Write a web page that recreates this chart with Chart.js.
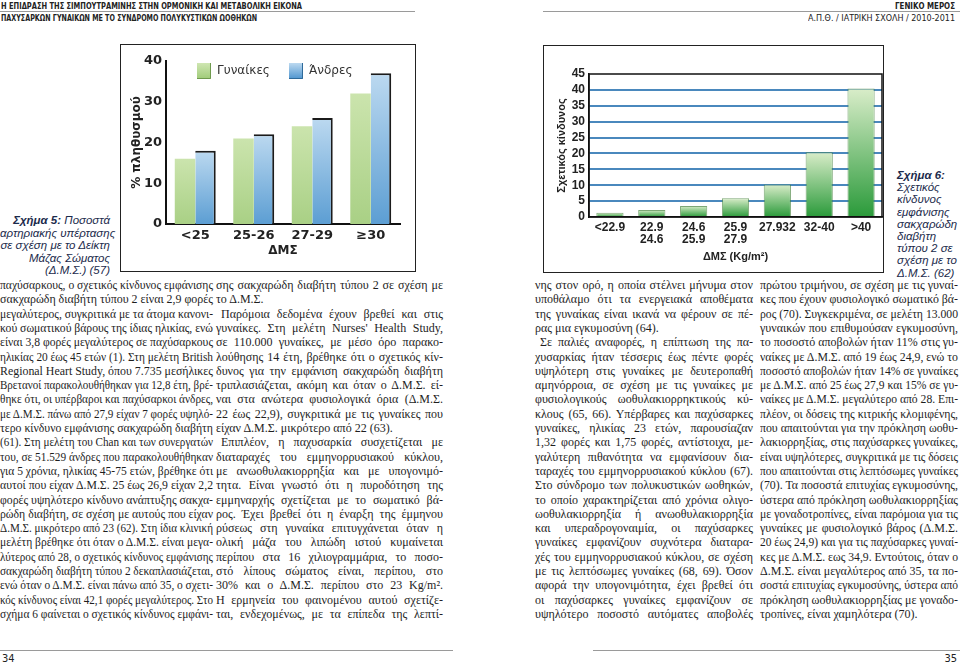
<!DOCTYPE html>
<html lang="el">
<head>
<meta charset="utf-8">
<title>Σχήμα 5 - Σχήμα 6</title>
<script src="https://cdn.jsdelivr.net/npm/chart.js@4.4.0/dist/chart.umd.min.js"></script>
<style>
html, body { margin: 0; padding: 0; background: #fff; }
body { width: 960px; height: 664px; position: relative; overflow: hidden; }
.hdr { position: absolute; font-family: "Liberation Sans Narrow", "DejaVu Sans Condensed", sans-serif; font-size: 9.5px; line-height: 10px; color: #222; white-space: nowrap; transform-origin: 0 0; }
.hdr b { font-weight: bold; }
.rule { position: absolute; height: 1px; background: #9a9a9a; }
.box { position: absolute; border: 1px solid #222; box-sizing: border-box; }
.box canvas { position: absolute; left: 0; top: 0; }
.cap { position: absolute; font-family: "Liberation Sans", Arial, sans-serif; font-style: italic; font-size: 11.5px; color: #1c2b4c; white-space: nowrap; }
.ln { position: absolute; font-family: "Liberation Serif", "DejaVu Serif", serif; font-size: 12px; line-height: 14px; color: #1e1e1e; white-space: nowrap; transform-origin: 0 0; }
.pg { position: absolute; font-family: "Liberation Sans Narrow", "DejaVu Sans Condensed", sans-serif; font-size: 11px; color: #222; }
</style>
</head>
<body>

<div class="hdr" id="h1" style="left:1px; top:1px;"><b>Η ΕΠΙΔΡΑΣΗ ΤΗΣ ΣΙΜΠΟΥΤΡΑΜΙΝΗΣ ΣΤΗΝ ΟΡΜΟΝΙΚΗ ΚΑΙ ΜΕΤΑΒΟΛΙΚΗ ΕΙΚΟΝΑ</b></div>
<div class="hdr" id="h2" style="left:1px; top:13px;"><b>ΠΑΧΥΣΑΡΚΩΝ ΓΥΝΑΙΚΩΝ ΜΕ ΤΟ ΣΥΝΔΡΟΜΟ ΠΟΛΥΚΥΣΤΙΚΩΝ ΩΟΘΗΚΩΝ</b></div>
<div class="hdr" id="h3" style="left:895px; top:1px;"><b>ΓΕΝΙΚΟ ΜΕΡΟΣ</b></div>
<div class="hdr" id="h4" style="left:808px; top:13px;">Α.Π.Θ. / ΙΑΤΡΙΚΗ ΣΧΟΛΗ / 2010-2011</div>
<div class="rule" style="left:0; top:11px; width:415px;"></div>
<div class="rule" style="left:543px; top:11px; width:417px;"></div>

<div class="box" style="left:120px; top:44px; width:296px; height:228px;">
  <canvas id="chart5" width="294" height="226"></canvas>
</div>
<div class="box" style="left:543px; top:45px; width:341px; height:228px;">
  <canvas id="chart6" width="339" height="226"></canvas>
</div>

<div class="cap" style="left:0; width:110px; top:214px; line-height:12.5px; text-align:right;">
  <b>Σχήμα 5:</b> Ποσοστά<br>αρτηριακής υπέρτασης<br>σε σχέση με το Δείκτη<br>Μάζας Σώματος<br>(Δ.Μ.Σ.) (57)
</div>
<div class="cap" style="left:897px; top:169px; line-height:12.2px;">
  <b>Σχήμα 6:</b><br>Σχετικός<br>κίνδυνος<br>εμφάνισης<br>σακχαρώδη<br>διαβήτη<br>τύπου 2 σε<br>σχέση με το<br>Δ.Μ.Σ. (62)
</div>

<div id="text"></div>

<div class="rule" style="left:0; top:650px; width:453px;"></div>
<div class="rule" style="left:593px; top:650px; width:367px;"></div>
<div class="pg" style="left:2px; top:652px;">34</div>
<div class="pg" style="right:3px; top:652px;">35</div>

<script>
"use strict";

// Σχήμα 5: % πληθυσμού με αρτηριακή υπέρταση ανά ΔΜΣ
const bmiGroups = ["<25", "25-26", "27-29", "≥30"];
const womenPct = [16, 21, 24, 32];
const menPct = [18, 22, 26, 37];
const pctTicks = [0, 10, 20, 30, 40];

// Σχήμα 6: σχετικός κίνδυνος σακχαρώδη διαβήτη τύπου 2 ανά ΔΜΣ
const riskGroups = [["<22.9"], ["22.9", "24.6"], ["24.6", "25.9"], ["25.9", "27.9"], ["27.932"], ["32-40"], [">40"]];
const relRisk = [1.3, 2.2, 3.5, 5.9, 10.2, 20.4, 40.4];
const riskTicks = [0, 5, 10, 15, 20, 25, 30, 35, 40, 45];

// text of the four columns, one entry per printed line
// ">" at start = paragraph indent, "|" at end = last line of paragraph
const col1 = [
    "παχύσαρκους, ο σχετικός κίνδυνος εμφάνισης",
    "σακχαρώδη διαβήτη τύπου 2 είναι 2,9 φορές",
    "μεγαλύτερος, συγκριτικά με τα άτομα κανονι-",
    "κού σωματικού βάρους της ίδιας ηλικίας, ενώ",
    "είναι 3,8 φορές μεγαλύτερος σε παχύσαρκους",
    "ηλικίας 20 έως 45 ετών (1). Στη μελέτη British",
    "Regional Heart Study, όπου 7.735 μεσήλικες",
    "Βρετανοί παρακολουθήθηκαν για 12,8 έτη, βρέ-",
    "θηκε ότι, οι υπέρβαροι και παχύσαρκοι άνδρες,",
    "με Δ.Μ.Σ. πάνω από 27,9 είχαν 7 φορές υψηλό-",
    "τερο κίνδυνο εμφάνισης σακχαρώδη διαβήτη",
    "(61). Στη μελέτη του Chan και των συνεργατών",
    "του, σε 51.529 άνδρες που παρακολουθήθηκαν",
    "για 5 χρόνια, ηλικίας 45-75 ετών, βρέθηκε ότι",
    "αυτοί που είχαν Δ.Μ.Σ. 25 έως 26,9 είχαν 2,2",
    "φορές υψηλότερο κίνδυνο ανάπτυξης σακχα-",
    "ρώδη διαβήτη, σε σχέση με αυτούς που είχαν",
    "Δ.Μ.Σ. μικρότερο από 23 (62). Στη ίδια κλινική",
    "μελέτη βρέθηκε ότι όταν ο Δ.Μ.Σ. είναι μεγα-",
    "λύτερος από 28, ο σχετικός κίνδυνος εμφάνισης",
    "σακχαρώδη διαβήτη τύπου 2 δεκαπλασιάζεται,",
    "ενώ όταν ο Δ.Μ.Σ. είναι πάνω από 35, ο σχετι-",
    "κός κίνδυνος είναι 42,1 φορές μεγαλύτερος. Στο",
    "σχήμα 6 φαίνεται ο σχετικός κίνδυνος εμφάνι-"
];
const col2 = [
    "σης σακχαρώδη διαβήτη τύπου 2 σε σχέση με",
    "το Δ.Μ.Σ.|",
    ">Παρόμοια δεδομένα έχουν βρεθεί και στις",
    "γυναίκες. Στη μελέτη Nurses' Health Study,",
    "σε 110.000 γυναίκες, με μέσο όρο παρακο-",
    "λούθησης 14 έτη, βρέθηκε ότι ο σχετικός κίν-",
    "δυνος για την εμφάνιση σακχαρώδη διαβήτη",
    "τριπλασιάζεται, ακόμη και όταν ο Δ.Μ.Σ. εί-",
    "ναι στα ανώτερα φυσιολογικά όρια (Δ.Μ.Σ.",
    "22 έως 22,9), συγκριτικά με τις γυναίκες που",
    "είχαν Δ.Μ.Σ. μικρότερο από 22 (63).|",
    ">Επιπλέον, η παχυσαρκία συσχετίζεται με",
    "διαταραχές του εμμηνορρυσιακού κύκλου,",
    "με ανωοθυλακιορρηξία και με υπογονιμό-",
    "τητα. Είναι γνωστό ότι η πυροδότηση της",
    "εμμηναρχής σχετίζεται με το σωματικό βά-",
    "ρος. Έχει βρεθεί ότι η έναρξη της έμμηνου",
    "ρύσεως στη γυναίκα επιτυγχάνεται όταν η",
    "ολική μάζα του λιπώδη ιστού κυμαίνεται",
    "περίπου στα 16 χιλιογραμμάρια, το ποσο-",
    "στό λίπους σώματος είναι, περίπου, στο",
    "30% και ο Δ.Μ.Σ. περίπου στο 23 Kg/m².",
    "Η ερμηνεία του φαινομένου αυτού σχετίζε-",
    "ται, ενδεχομένως, με τα επίπεδα της λεπτί-"
];
const col3 = [
    "νης στον ορό, η οποία στέλνει μήνυμα στον",
    "υποθάλαμο ότι τα ενεργειακά αποθέματα",
    "της γυναίκας είναι ικανά να φέρουν σε πέ-",
    "ρας μια εγκυμοσύνη (64).|",
    ">Σε παλιές αναφορές, η επίπτωση της πα-",
    "χυσαρκίας ήταν τέσσερις έως πέντε φορές",
    "υψηλότερη στις γυναίκες με δευτεροπαθή",
    "αμηνόρροια, σε σχέση με τις γυναίκες με",
    "φυσιολογικούς ωοθυλακιορρηκτικούς κύ-",
    "κλους (65, 66). Υπέρβαρες και παχύσαρκες",
    "γυναίκες, ηλικίας 23 ετών, παρουσίαζαν",
    "1,32 φορές και 1,75 φορές, αντίστοιχα, με-",
    "γαλύτερη πιθανότητα να εμφανίσουν δια-",
    "ταραχές του εμμηνορρυσιακού κύκλου (67).",
    "Στο σύνδρομο των πολυκυστικών ωοθηκών,",
    "το οποίο χαρακτηρίζεται από χρόνια ολιγο-",
    "ωοθυλακιορρηξία ή ανωοθυλακιορρηξία",
    "και υπεραδρογοναιμία, οι παχύσαρκες",
    "γυναίκες εμφανίζουν συχνότερα διαταρα-",
    "χές του εμμηνορρυσιακού κύκλου, σε σχέση",
    "με τις λεπτόσωμες γυναίκες (68, 69). Όσον",
    "αφορά την υπογονιμότητα, έχει βρεθεί ότι",
    "οι παχύσαρκες γυναίκες εμφανίζουν σε",
    "υψηλότερο ποσοστό αυτόματες αποβολές"
];
const col4 = [
    "πρώτου τριμήνου, σε σχέση με τις γυναί-",
    "κες που έχουν φυσιολογικό σωματικό βά-",
    "ρος (70). Συγκεκριμένα, σε μελέτη 13.000",
    "γυναικών που επιθυμούσαν εγκυμοσύνη,",
    "το ποσοστό αποβολών ήταν 11% στις γυ-",
    "ναίκες με Δ.Μ.Σ. από 19 έως 24,9, ενώ το",
    "ποσοστό αποβολών ήταν 14% σε γυναίκες",
    "με Δ.Μ.Σ. από 25 έως 27,9 και 15% σε γυ-",
    "ναίκες με Δ.Μ.Σ. μεγαλύτερο από 28. Επι-",
    "πλέον, οι δόσεις της κιτρικής κλομιφένης,",
    "που απαιτούνται για την πρόκληση ωοθυ-",
    "λακιορρηξίας, στις παχύσαρκες γυναίκες,",
    "είναι υψηλότερες, συγκριτικά με τις δόσεις",
    "που απαιτούνται στις λεπτόσωμες γυναίκες",
    "(70). Τα ποσοστά επιτυχίας εγκυμοσύνης,",
    "ύστερα από πρόκληση ωοθυλακιορρηξίας",
    "με γοναδοτροπίνες, είναι παρόμοια για τις",
    "γυναίκες με φυσιολογικό βάρος (Δ.Μ.Σ.",
    "20 έως 24,9) και για τις παχύσαρκες γυναί-",
    "κες με Δ.Μ.Σ. εως 34,9. Εντούτοις, όταν ο",
    "Δ.Μ.Σ. είναι μεγαλύτερος από 35, τα πο-",
    "σοστά επιτυχίας εγκυμοσύνης, ύστερα από",
    "πρόκληση ωοθυλακιορρηξίας με γοναδο-",
    "τροπίνες, είναι χαμηλότερα (70).|"
];

(function() {
    // squeeze or stretch a single line to the wanted width
    function fitTo(el, w) {
        let natural = el.getBoundingClientRect().width;
        el.style.transform = "scaleX(" + (w / natural) + ")";
    }

    function setLine(el, w, justify) {
        let natural = el.getBoundingClientRect().width;
        if (natural > w) {
            el.style.transform = "scaleX(" + (w / natural) + ")";
        } else if (justify) {
            let spaces = (el.textContent.match(/ /g) || []).length;
            if (spaces > 0) el.style.wordSpacing = ((w - natural) / spaces) + "px";
        }
    }

    function layoutText() {
        let holder = document.getElementById("text");
        let columns = [
            { x: 0, w: 213, lines: col1 },
            { x: 216, w: 227, lines: col2 },
            { x: 535, w: 218, lines: col3 },
            { x: 760, w: 198, lines: col4 },
        ];
        columns.forEach(function(c) {
            c.lines.forEach(function(raw, i) {
                let indent = raw.charAt(0) === ">";
                let last = raw.charAt(raw.length - 1) === "|";
                let txt = raw.replace(/^>/, "").replace(/\|$/, "");
                let el = document.createElement("div");
                el.className = "ln";
                el.textContent = txt;
                el.style.left = (c.x + (indent ? 5 : 0)) + "px";
                el.style.top = (278 + i * 14.3) + "px";
                holder.appendChild(el);
                setLine(el, c.w - (indent ? 5 : 0), !last);
            });
        });

        fitTo(document.getElementById("h1"), 301);
        fitTo(document.getElementById("h2"), 256);
        fitTo(document.getElementById("h3"), 60);
        fitTo(document.getElementById("h4"), 147);
    }

    // light-at-top gradient for each bar, from its own top to the axis
    function barGradient(light, dark) {
        return function(ctx) {
            let chart = ctx.chart;
            let area = chart.chartArea;
            if (!area || ctx.raw === undefined) return dark;
            let top = chart.scales.y.getPixelForValue(ctx.raw);
            let g = chart.ctx.createLinearGradient(0, top, 0, area.bottom);
            g.addColorStop(0, light);
            g.addColorStop(1, dark);
            return g;
        };
    }

    const innerLegend = {
        id: "innerLegend",
        afterDraw(chart, args, opts) {
            let ctx = chart.ctx;
            let area = chart.chartArea;
            ctx.save();
            ctx.font = opts.font;
            ctx.textBaseline = "middle";
            chart.data.datasets.forEach(function(ds, i) {
                let bx = area.left + opts.x[i];
                let by = area.top + opts.y;
                let g = ctx.createLinearGradient(0, by, 0, by + opts.h);
                g.addColorStop(0, opts.light[i]);
                g.addColorStop(1, opts.dark[i]);
                ctx.fillStyle = g;
                ctx.fillRect(bx, by, opts.w, opts.h);
                ctx.strokeStyle = opts.edge[i];
                ctx.lineWidth = 1;
                ctx.beginPath();
                ctx.moveTo(bx + opts.w - 0.5, by);
                ctx.lineTo(bx + opts.w - 0.5, by + opts.h - 0.5);
                ctx.lineTo(bx, by + opts.h - 0.5);
                ctx.stroke();
                ctx.fillStyle = opts.color;
                ctx.fillText(ds.label, bx + opts.w + 6, by + opts.h / 2);
            });
            ctx.restore();
        },
    };

    const plotFrame = {
        id: "plotFrame",
        afterDraw(chart, args, opts) {
            let ctx = chart.ctx;
            let a = chart.chartArea;
            ctx.save();
            ctx.strokeStyle = opts.color;
            ctx.lineWidth = opts.width;
            ctx.strokeRect(a.left, a.top, a.right - a.left, a.bottom - a.top);
            ctx.restore();
        },
    };

    function drawChart5() {
        new Chart(document.getElementById("chart5"), {
            type: "bar",
            data: {
                labels: bmiGroups,
                datasets: [{
                    label: "Γυναίκες",
                    data: womenPct,
                    backgroundColor: barGradient("#cbe4ad", "#a9d085"),
                    borderWidth: 0,
                }, {
                    label: "Άνδρες",
                    data: menPct,
                    backgroundColor: barGradient("#bcd9f0", "#5c9ed3"),
                    borderColor: "#1b1b1b",
                    borderWidth: { top: 2, right: 2, left: 0, bottom: 0 },
                    borderSkipped: "bottom",
                }],
            },
            options: {
                responsive: false,
                animation: false,
                events: [],
                layout: { padding: { left: 0, right: 15, top: 16, bottom: 0 } },
                datasets: { bar: { categoryPercentage: 0.7, barPercentage: 1 } },
                plugins: {
                    legend: { display: false },
                    tooltip: { enabled: false },
                    innerLegend: {
                        font: "12px 'DejaVu Sans'",
                        color: "#333",
                        x: [31, 123], y: 2, w: 14, h: 16,
                        light: ["#cfe6b2", "#bcd9f0"],
                        dark: ["#9fcb78", "#4f95cf"],
                        edge: ["#6f9a4e", "#2f6a9a"],
                    },
                },
                scales: {
                    x: {
                        grid: { display: false, drawTicks: false },
                        border: { display: true, color: "#111", width: 2 },
                        ticks: { padding: 4, color: "#222", font: { family: "DejaVu Sans", size: 13, weight: "bold" } },
                        title: { display: true, text: "ΔΜΣ", color: "#222", padding: { top: 0, bottom: 13 }, font: { family: "DejaVu Sans", size: 12, weight: "bold" } },
                        afterFit: function(s) { s.height = 47; },
                    },
                    y: {
                        min: 0,
                        max: 40,
                        grid: { display: false, drawTicks: false },
                        border: { display: true, color: "#111", width: 2 },
                        afterBuildTicks: function(s) { s.ticks = pctTicks.map(function(v) { return { value: v }; }); },
                        ticks: { padding: 4, autoSkip: false, color: "#222", font: { family: "DejaVu Sans", size: 13, weight: "bold" } },
                        title: { display: true, text: "% πληθυσμού", color: "#222", padding: { top: 9, bottom: 0 }, font: { family: "DejaVu Sans", size: 12, weight: "bold" } },
                        afterFit: function(s) { s.width = 45; },
                    },
                },
            },
            plugins: [innerLegend],
        });
    }

    function drawChart6() {
        new Chart(document.getElementById("chart6"), {
            type: "bar",
            data: {
                labels: riskGroups,
                datasets: [{
                    label: "Σχετικός κίνδυνος",
                    data: relRisk,
                    backgroundColor: barGradient("#d9edc9", "#2a9a3a"),
                    borderColor: "rgba(70,130,60,0.7)",
                    borderWidth: 1,
                }],
            },
            options: {
                responsive: false,
                animation: false,
                events: [],
                layout: { padding: { left: 0, right: 1, top: 28, bottom: 0 } },
                datasets: { bar: { categoryPercentage: 1, barPercentage: 0.65 } },
                plugins: {
                    legend: { display: false },
                    tooltip: { enabled: false },
                    plotFrame: { color: "#111", width: 1.5 },
                },
                scales: {
                    x: {
                        grid: { display: false, drawTicks: false },
                        border: { display: true, color: "#111", width: 1.5 },
                        ticks: { padding: 4, autoSkip: false, maxRotation: 0, minRotation: 0, color: "#222", font: { family: "Liberation Sans", size: 12, weight: "bold", lineHeight: 1.05 } },
                        title: { display: true, text: "ΔΜΣ (Kg/m²)", color: "#222", padding: { top: 0, bottom: 8 }, font: { family: "Liberation Sans", size: 11, weight: "bold" } },
                        afterFit: function(s) { s.height = 55; },
                    },
                    y: {
                        min: 0,
                        max: 45,
                        grid: {
                            drawTicks: false,
                            lineWidth: 2,
                            color: function(ctx) {
                                if (!ctx.tick || ctx.tick.value === 0 || ctx.tick.value === 45) return "rgba(0,0,0,0)";
                                return "#4a88bd";
                            },
                        },
                        border: { display: true, color: "#111", width: 1.5 },
                        afterBuildTicks: function(s) { s.ticks = riskTicks.map(function(v) { return { value: v }; }); },
                        ticks: { padding: 4, autoSkip: false, color: "#222", font: { family: "Liberation Sans", size: 12, weight: "bold" } },
                        title: { display: true, text: "Σχετικός κίνδυνος", color: "#222", padding: { top: 11, bottom: 0 }, font: { family: "Liberation Sans", size: 11, weight: "bold" } },
                        afterFit: function(s) { s.width = 45; },
                    },
                },
            },
            plugins: [plotFrame],
        });
    }

    function Start() {
        layoutText();
        drawChart5();
        drawChart6();
    }

    window.addEventListener("load", Start);
})();
</script>
</body>
</html>
